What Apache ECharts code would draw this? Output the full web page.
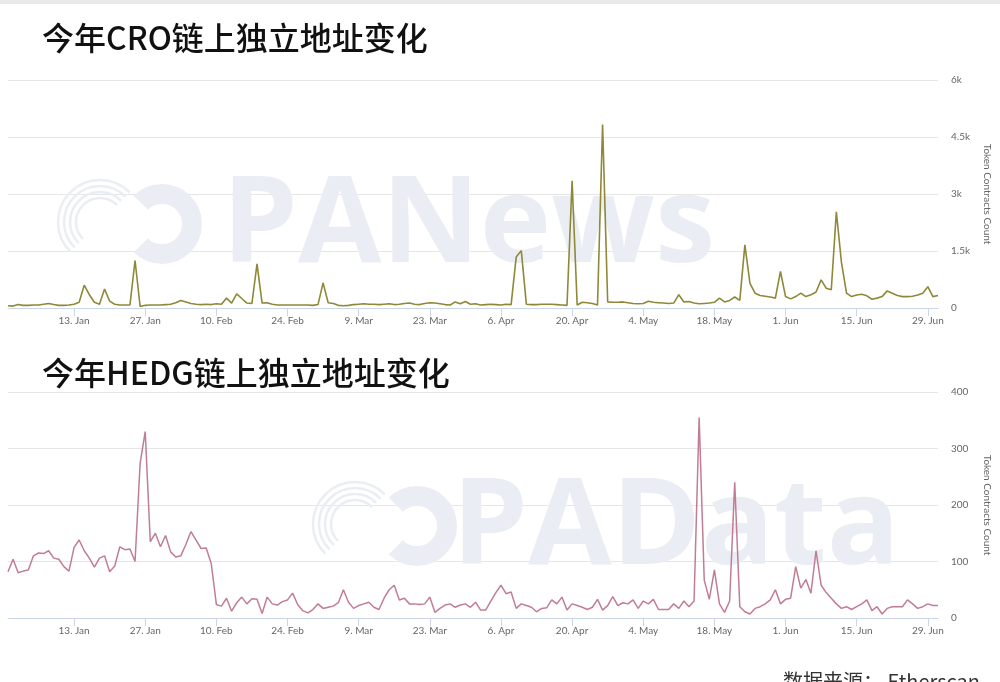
<!DOCTYPE html>
<html>
<head>
<meta charset="utf-8">
<script src="https://cdn.jsdelivr.net/npm/echarts@6/dist/echarts.min.js"></script>
<style>
html,body{margin:0;padding:0;background:#fff;}
#c{width:1000px;height:682px;}
</style>
</head>
<body>
<div id="c"></div>
<script>
// ---- data ----
const startDate = [2019, 11, 31]; // 31 Dec 2019, daily points
const titleTop = '今年CRO链上独立地址变化';
const titleBottom = '今年HEDG链上独立地址变化';
const sourceText = '数据来源： Etherscan';
const yAxisName = 'Token Contracts Count';
const monthNames = ['Jan','Feb','Mar','Apr','May','Jun','Jul','Aug','Sep','Oct','Nov','Dec'];
const topTicks = [0, 1500, 3000, 4500, 6000];
const topTickLabels = ['0', '1.5k', '3k', '4.5k', '6k'];
const bottomTicks = [0, 100, 200, 300, 400];

const croValues = [
  60,50,90,70,70,80,80,100,120,90,
  70,70,80,100,150,600,350,150,100,500,
  180,100,80,80,80,1250,40,70,80,80,
  80,90,100,140,200,160,120,100,90,100,
  90,110,100,260,130,370,250,130,120,1160,
  130,140,100,80,80,80,80,80,80,80,
  70,90,660,140,120,70,60,70,90,100,
  110,100,100,90,100,110,90,100,120,130,
  100,90,120,140,130,110,90,80,160,110,
  170,100,110,80,90,100,90,80,100,90,
  1340,1510,100,90,90,100,100,100,90,80,
  70,3350,80,150,140,120,80,4830,160,150,
  150,160,140,120,110,120,180,150,140,130,
  120,130,350,160,170,130,110,120,130,150,
  260,160,200,290,200,1660,650,390,330,310,
  290,260,960,300,240,300,390,300,350,420,
  740,520,480,2530,1200,390,300,340,360,320,
  230,260,300,450,390,330,300,300,310,340,
  390,560,300,330
];

const hedgValues = [
  82,104,80,83,85,110,115,114,119,106,
  104,91,83,125,138,119,106,90,106,110,
  82,92,126,121,122,100,274,330,135,150,
  126,146,117,108,110,130,153,138,123,124,
  96,24,21,35,12,27,37,25,34,33,
  8,37,25,23,29,32,44,24,13,9,
  15,25,17,19,21,27,50,28,17,22,
  25,28,19,15,35,50,58,32,35,25,
  25,24,25,37,10,17,23,25,19,23,
  25,19,28,14,14,30,45,58,43,46,
  17,25,22,19,11,17,18,32,25,37,
  14,25,22,19,15,19,33,14,22,38,
  22,27,25,32,17,30,25,33,15,15,
  15,25,17,30,20,30,355,67,33,85,
  25,10,30,240,20,11,7,17,20,25,
  32,50,25,33,35,91,53,68,44,119,
  58,45,35,25,17,20,15,20,25,32,
  13,20,7,17,20,20,20,32,25,17,
  20,25,22,22
];

// ---- build categories ----
const dates = croValues.map((_, i) => {
  const d = new Date(startDate[0], startDate[1], startDate[2] + i);
  return d.getDate() + '. ' + monthNames[d.getMonth()];
});
const firstLabelIndex = 13;
const labelStep = 14;
const showIdx = (i) => i >= firstLabelIndex && (i - firstLabelIndex) % labelStep === 0;

const gridLeft = 8, gridRight = 60;
const axisGray = '#ccd6eb';
const labelGray = '#666666';

function xAxis(gridIndex) {
  return {
    type: 'category', gridIndex, data: dates, boundaryGap: false,
    axisLine: { lineStyle: { color: axisGray, width: 1 } },
    axisTick: { show: true, interval: (i) => showIdx(i), alignWithLabel: true, length: 8, lineStyle: { color: axisGray } },
    axisLabel: { interval: (i) => showIdx(i), hideOverlap: false,
      color: labelGray, fontSize: 10, fontFamily: 'Lato, "DejaVu Sans", sans-serif', margin: 8 },
    splitLine: { show: false }
  };
}
function yAxis(gridIndex, max, interval, fmt) {
  return {
    type: 'value', gridIndex, position: 'right', min: 0, max, interval,
    name: yAxisName, nameLocation: 'middle', nameRotate: -90, nameGap: 44,
    nameTextStyle: { color: labelGray, fontSize: 10, fontFamily: 'Lato, "DejaVu Sans", sans-serif' },
    axisLine: { show: false }, axisTick: { show: false },
    axisLabel: { color: labelGray, fontSize: 10, margin: 13, fontFamily: 'Lato, "DejaVu Sans", sans-serif', formatter: fmt },
    splitLine: { show: true, lineStyle: { color: '#e6e6e6', width: 1 } }
  };
}

const wmColor = '#eaeef4';
function logo(cx, cy) {
  const els = [];
  for (let k = 0; k < 4; k++) {
    els.push({ type: 'arc', z: 1, silent: true,
      shape: { cx: cx, cy: cy, r: 24 + k * 6, startAngle: Math.PI * 0.75, endAngle: Math.PI * 1.75 },
      style: { stroke: wmColor, lineWidth: 2.5, fill: null } });
  }
  els.push({ type: 'arc', z: 1, silent: true,
    shape: { cx: cx + 62, cy: cy + 2, r: 30, startAngle: Math.PI * 1.25, endAngle: Math.PI * 2.75 },
    style: { stroke: wmColor, lineWidth: 20, fill: null } });
  return els;
}

const chart = echarts.init(document.getElementById('c'), null, { renderer: 'canvas' });
chart.setOption({
  animation: false,
  backgroundColor: '#ffffff',
  grid: [
    { left: gridLeft, right: gridRight, top: 80, height: 228 },
    { left: gridLeft, right: gridRight, top: 392, height: 226 }
  ],
  xAxis: [xAxis(0), xAxis(1)],
  yAxis: [
    yAxis(0, 6000, 1500, (v) => topTickLabels[topTicks.indexOf(v)]),
    yAxis(1, 400, 100, (v) => String(v))
  ],
  graphic: [
    { type: 'rect', silent: true, shape: { x: 0, y: 0, width: 1000, height: 4 }, style: { fill: '#e9e9e9' } },
    ...logo(100, 222),
    { type: 'text', z: 1, silent: true, left: 222, top: 167,
      style: { text: 'PANews', fill: wmColor, font: 'bold 121px "Open Sans", sans-serif' } },
    ...logo(355, 524),
    { type: 'text', z: 1, silent: true, left: 452, top: 469,
      style: { text: 'PAData', fill: wmColor, font: 'bold 121px "Open Sans", sans-serif' } },
    { type: 'text', left: 42, top: 22,
      style: { text: titleTop, fill: '#111111', font: '500 32px "Noto Sans CJK SC", sans-serif' } },
    { type: 'text', left: 42, top: 357,
      style: { text: titleBottom, fill: '#111111', font: '500 32px "Noto Sans CJK SC", sans-serif' } },
    { type: 'text', left: 783, top: 671,
      style: { text: sourceText, fill: '#333333', font: '20px "Noto Sans CJK SC", sans-serif' } }
  ],
  series: [
    { type: 'line', xAxisIndex: 0, yAxisIndex: 0, data: croValues, symbol: 'none', z: 3,
      lineStyle: { color: '#8e8838', width: 1.6 } },
    { type: 'line', xAxisIndex: 1, yAxisIndex: 1, data: hedgValues, symbol: 'none', z: 3,
      lineStyle: { color: '#c17d94', width: 1.5 } }
  ]
});
</script>
</body>
</html>
